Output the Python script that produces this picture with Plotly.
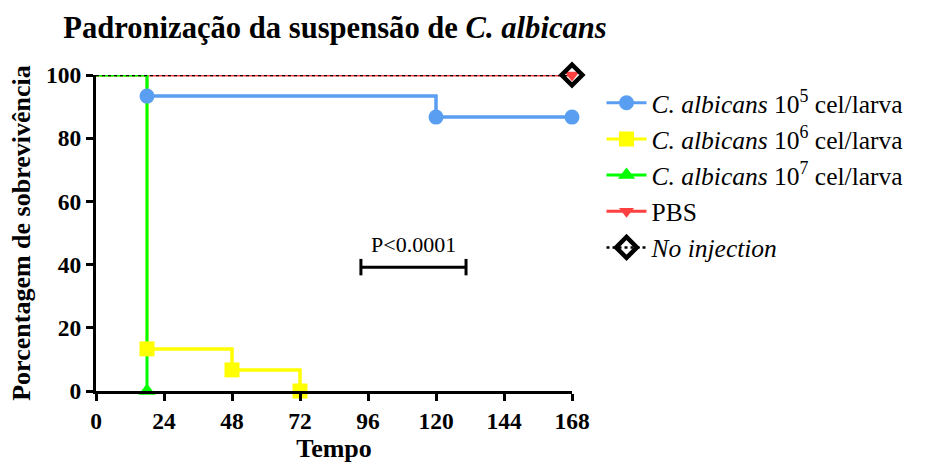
import plotly.graph_objects as go

# Kaplan-Meier survival curves (time in hours, survival in %)
series_names = [
    "<i>C. albicans</i> 10<sup>5</sup> cel/larva",
    "<i>C. albicans</i> 10<sup>6</sup> cel/larva",
    "<i>C. albicans</i> 10<sup>7</sup> cel/larva",
    "PBS",
    "<i>No injection</i>",
]
t_1e5 = [0, 18, 120, 168]
s_1e5 = [100, 93.33, 86.67, 86.67]
t_1e6 = [0, 18, 48, 72]
s_1e6 = [100, 13.33, 6.67, 0]
t_1e7 = [0, 18]
s_1e7 = [100, 0]
t_pbs = [0, 168]
s_pbs = [100, 100]
t_noinj = [0, 168]
s_noinj = [100, 100]

x_ticks = [0, 24, 48, 72, 96, 120, 144, 168]
y_ticks = [0, 20, 40, 60, 80, 100]

# log-rank annotation bracket
p_text = "P&lt;0.0001"
p_x0, p_x1, p_y = 93.5, 130.6, 39.2

SERIF = "Liberation Serif, Times New Roman, serif"

styles = [
    dict(color="#5A9EF2", symbol="circle", size=15, dash="solid", lw=3, mline=None),
    dict(color="#FFFF00", symbol="square", size=15, dash="solid", lw=3, mline=None),
    dict(color="#00FF00", symbol="triangle-up", size=15, dash="solid", lw=3, mline=None),
    dict(color="#FF4040", symbol="triangle-down", size=13, dash="solid", lw=3, mline=None),
    dict(color="#000000", symbol="diamond-open", size=16, dash="dot", lw=2.5,
         mline=dict(width=4.5, color="#000000")),
]
curves = [(t_1e5, s_1e5), (t_1e6, s_1e6), (t_1e7, s_1e7), (t_pbs, s_pbs), (t_noinj, s_noinj)]

fig = go.Figure()


def add_path(i):
    # full step path from t=0 (no marker at the origin point)
    t, s = curves[i]
    st = styles[i]
    fig.add_trace(go.Scatter(
        x=t, y=s, mode="lines", showlegend=False, legendgroup=series_names[i],
        line=dict(color=st["color"], width=st["lw"], shape="hv", dash=st["dash"]),
        cliponaxis=False, hoverinfo="skip",
    ))


def add_events(i, rank):
    # event points with markers; this trace carries the legend entry
    t, s = curves[i]
    st = styles[i]
    marker = dict(symbol=st["symbol"], size=st["size"], color=st["color"], opacity=1)
    if st["mline"]:
        marker["line"] = st["mline"]
    fig.add_trace(go.Scatter(
        x=t[1:], y=s[1:], name=series_names[i], mode="lines+markers",
        legendgroup=series_names[i], legendrank=rank,
        line=dict(color=st["color"], width=st["lw"], shape="hv", dash=st["dash"]),
        marker=marker, cliponaxis=False,
    ))


# drawing order: PBS lies beneath the infected groups, no-injection on top
for i in (3, 0, 1, 2, 4):
    add_path(i)
for i in (3, 0, 1, 2, 4):
    add_events(i, rank=i + 1)

# bracket for the p-value
fig.add_shape(type="line", x0=p_x0, x1=p_x1, y0=p_y, y1=p_y,
              line=dict(color="black", width=3))
for xx in (p_x0, p_x1):
    fig.add_shape(type="line", x0=xx, x1=xx, y0=p_y - 2.6, y1=p_y + 2.6,
                  line=dict(color="black", width=3))
fig.add_annotation(x=(p_x0 + p_x1) / 2, y=p_y + 2.6, text=p_text,
                   showarrow=False, yanchor="bottom",
                   font=dict(family=SERIF, size=22, color="black"))

fig.update_layout(
    width=929, height=463,
    margin=dict(l=96, r=357, t=75, b=72, autoexpand=False),
    paper_bgcolor="white", plot_bgcolor="white",
    title=dict(text="Padronização da suspensão de <i>C. albicans</i>",
               x=335 / 929, xanchor="center", y=0.94, yanchor="middle",
               font=dict(family=SERIF, size=30.6, color="black", weight="bold")),
    legend=dict(x=1.062, y=0.985, xanchor="left", yanchor="top",
                font=dict(family=SERIF, size=25.5, color="black"),
                tracegroupgap=0, itemwidth=40, bgcolor="rgba(0,0,0,0)",
                traceorder="normal"),
    xaxis=dict(range=[0, 168], tickvals=x_ticks, ticktext=[str(v) for v in x_ticks],
               showline=True, linewidth=3, linecolor="black", showgrid=False,
               zeroline=False, ticks="outside", ticklen=7, tickwidth=3,
               tickcolor="black", automargin=False,
               tickfont=dict(family=SERIF, size=23.5, color="black", weight="bold"),
               title=dict(text="Tempo", standoff=9,
                          font=dict(family=SERIF, size=26, color="black", weight="bold"))),
    yaxis=dict(range=[0, 100], tickvals=y_ticks, ticktext=[str(v) for v in y_ticks],
               showline=True, linewidth=3, linecolor="black", showgrid=False,
               zeroline=False, ticks="outside", ticklen=7, tickwidth=3,
               tickcolor="black", automargin=False,
               tickfont=dict(family=SERIF, size=23.5, color="black", weight="bold"),
               title=dict(text="Porcentagem de sobrevivência", standoff=8,
                          font=dict(family=SERIF, size=26, color="black", weight="bold"))),
)

fig.write_html("out.html")
